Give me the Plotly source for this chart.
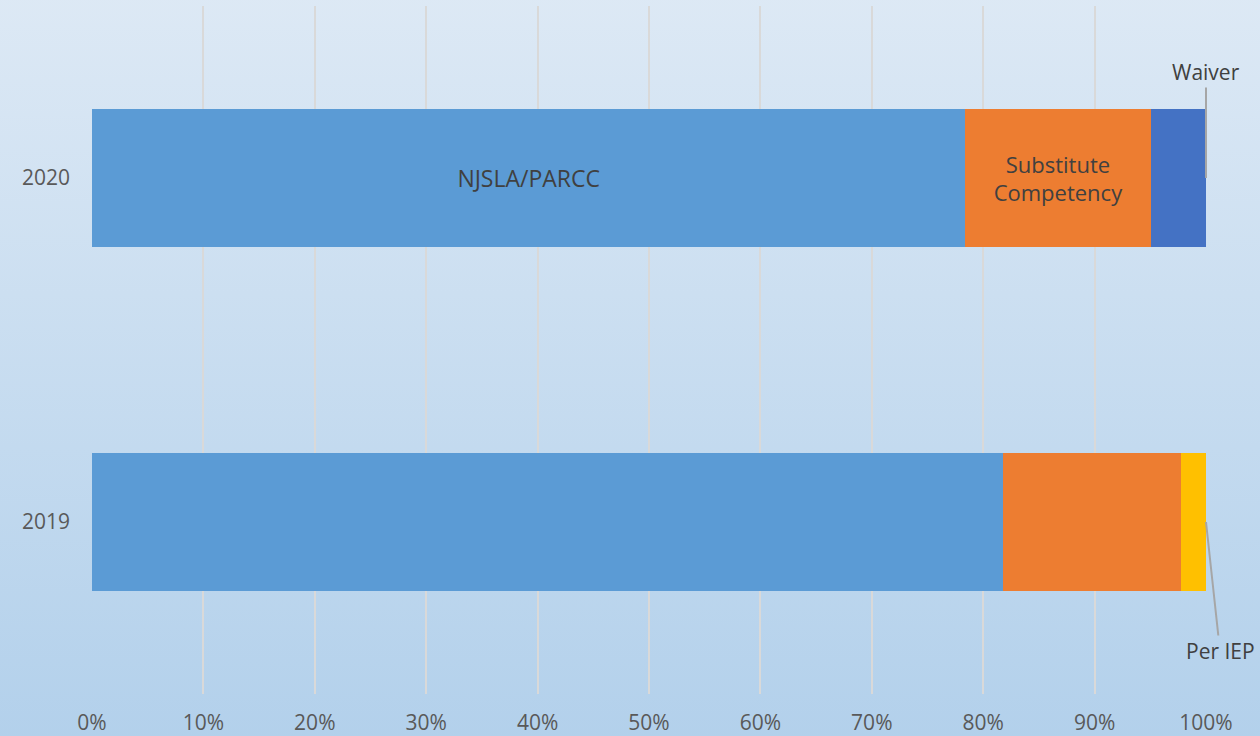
import base64
import plotly.graph_objects as go

# Share of graduates by pathway (fraction of total)
years = ["2019", "2020"]
njsla_parcc = [0.818, 0.784]
substitute = [0.160, 0.167]
waiver = [0.0, 0.049]
per_iep = [0.022, 0.0]

x_ticks = [i / 10 for i in range(11)]
x_tick_labels = [f"{i * 10}%" for i in range(11)]

FONT = "Open Sans"
TEXT_COLOR = "#595959"
LABEL_COLOR = "#404040"

# soft blue vertical gradient behind the whole chart
svg = (
    '<svg xmlns="http://www.w3.org/2000/svg" width="100" height="100" preserveAspectRatio="none">'
    '<defs><linearGradient id="g" x1="0" y1="0" x2="0" y2="1">'
    '<stop offset="0" stop-color="#dde9f5"/><stop offset="1" stop-color="#b2d0eb"/>'
    '</linearGradient></defs><rect width="100" height="100" fill="url(#g)"/></svg>'
)
bg_uri = "data:image/svg+xml;base64," + base64.b64encode(svg.encode()).decode()

fig = go.Figure()

fig.add_trace(go.Bar(
    y=years, x=njsla_parcc, orientation="h", name="NJSLA/PARCC",
    marker=dict(color="#5b9bd5", line=dict(width=0)),
    text=["", "NJSLA/PARCC"], textposition="inside", insidetextanchor="middle",
    textfont=dict(family=FONT, size=23, color=LABEL_COLOR),
))
fig.add_trace(go.Bar(
    y=years, x=substitute, orientation="h", name="Substitute Competency",
    marker=dict(color="#ed7d31", line=dict(width=0)),
    text=["", "Substitute<br>Competency"], textposition="inside", insidetextanchor="middle",
    textfont=dict(family=FONT, size=22, color=LABEL_COLOR),
))
fig.add_trace(go.Bar(
    y=years, x=waiver, orientation="h", name="Waiver",
    marker=dict(color="#4472c4", line=dict(width=0)),
))
fig.add_trace(go.Bar(
    y=years, x=per_iep, orientation="h", name="Per IEP",
    marker=dict(color="#ffc000", line=dict(width=0)),
))

# callout labels with leader lines at the right end of each bar
fig.add_annotation(
    x=1.0, y=years.index("2020"), text="Waiver", showarrow=True, arrowhead=0,
    arrowcolor="#a6a6a6", arrowwidth=2, ax=0, ay=-106, standoff=0,
    font=dict(family=FONT, size=21, color=LABEL_COLOR),
)
fig.add_annotation(
    x=1.0, y=years.index("2019"), text="Per IEP", showarrow=True, arrowhead=0,
    arrowcolor="#a6a6a6", arrowwidth=2, ax=14, ay=129, standoff=0,
    font=dict(family=FONT, size=21, color=LABEL_COLOR),
)

fig.update_layout(
    width=1260, height=736,
    barmode="stack", bargap=0.6, showlegend=False,
    paper_bgcolor="#c8def1", plot_bgcolor="rgba(0,0,0,0)",
    margin=dict(l=92, r=54, t=6, b=42),
    font=dict(family=FONT, size=21, color=TEXT_COLOR),
    images=[dict(
        source=bg_uri, xref="paper", yref="paper", x=-0.1, y=1.02,
        sizex=1.2, sizey=1.1, sizing="stretch", xanchor="left", yanchor="top",
        layer="below",
    )],
    xaxis=dict(
        range=[0, 1], tickvals=x_ticks, ticktext=x_tick_labels,
        showgrid=True, gridcolor="#d9d9d9", gridwidth=1.5, zeroline=False,
        showline=False, ticks="", ticklabelstandoff=14, automargin=False,
        tickfont=dict(family=FONT, size=21, color=TEXT_COLOR),
    ),
    yaxis=dict(
        type="category", categoryorder="array", categoryarray=years, range=[-0.5, 1.5],
        showgrid=False, zeroline=False, showline=False, ticks="",
        ticklabelstandoff=21, automargin=False,
        tickfont=dict(family=FONT, size=21, color=TEXT_COLOR),
    ),
)

fig.write_html(
    "out.html",
    config={"displayModeBar": False},
    post_script="document.body.style.margin='0';",
)
